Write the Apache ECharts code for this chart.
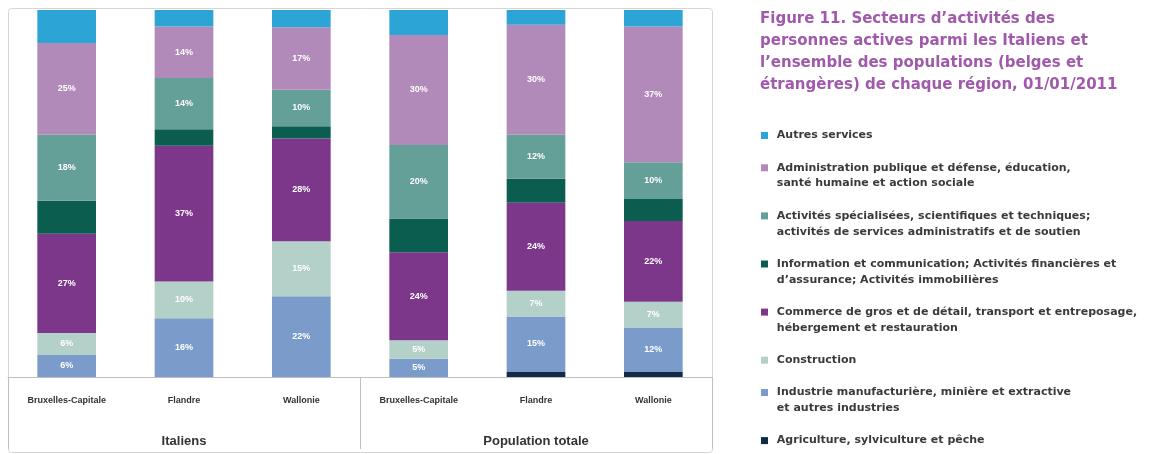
<!DOCTYPE html>
<html>
<head>
<meta charset="utf-8">
<script src="https://cdn.jsdelivr.net/npm/echarts@6/dist/echarts.min.js"></script>
<style>
  html, body { margin: 0; padding: 0; background: #ffffff; }
  #chart { width: 1153px; height: 454px; }
</style>
</head>
<body>
<div id="chart"></div>
<script>
// Régions et groupes de population
const regions = ['Bruxelles-Capitale', 'Flandre', 'Wallonie', 'Bruxelles-Capitale', 'Flandre', 'Wallonie'];
const groups = ['Italiens', 'Population totale'];

// Parts (%) par secteur d'activité, dans l'ordre des régions ci-dessus
const agriculture  = [0, 0, 0, 0, 1.5, 1.5];
const industrie    = [6, 16, 22, 5, 15, 12];
const construction = [6, 10, 15, 5, 7, 7];
const commerce     = [27, 37, 28, 24, 24, 22];
const information  = [9, 4.5, 3.3, 9.2, 6.5, 6];
const specialisees = [18, 14, 10, 20, 12, 10];
const administration = [25, 14, 17, 30, 30, 37];
const autresServices = [9, 4.5, 4.7, 6.8, 4, 4.5];

// Libellés des secteurs (ordre de la légende, du haut vers le bas)
const sectorNames = [
  'Autres services',
  'Administration publique et défense, éducation,\nsanté humaine et action sociale',
  'Activités spécialisées, scientifiques et techniques;\nactivités de services administratifs et de soutien',
  'Information et communication; Activités financières et\nd\u2019assurance; Activités immobilières',
  'Commerce de gros et de détail, transport et entreposage,\nhébergement et restauration',
  'Construction',
  'Industrie manufacturière, minière et extractive\net autres industries',
  'Agriculture, sylviculture et pêche'
];

const titleText = 'Figure 11. Secteurs d\u2019activités des\npersonnes actives parmi les Italiens et\nl\u2019ensemble des populations (belges et\nétrangères) de chaque région, 01/01/2011';

// Empilement du bas vers le haut
const stack = [
  { data: agriculture,    name: sectorNames[7], color: '#102b4a', label: false },
  { data: industrie,      name: sectorNames[6], color: '#7b9ccb', label: true },
  { data: construction,   name: sectorNames[5], color: '#b3d1c8', label: true },
  { data: commerce,       name: sectorNames[4], color: '#7c378b', label: true },
  { data: information,    name: sectorNames[3], color: '#0b5d50', label: false },
  { data: specialisees,   name: sectorNames[2], color: '#649f98', label: true },
  { data: administration, name: sectorNames[1], color: '#b28ab9', label: true },
  { data: autresServices, name: sectorNames[0], color: '#2ca4d6', label: false }
];

const FONT = '"Liberation Sans", Arial, sans-serif';
const WIDE = '"DejaVu Sans", Verdana, sans-serif';

const series = stack.map(s => ({
  name: s.name,
  type: 'bar',
  stack: 'total',
  barWidth: '50%',
  data: s.data,
  itemStyle: { color: s.color },
  label: {
    show: s.label,
    position: 'inside',
    formatter: p => p.value + '%',
    color: '#ffffff',
    fontFamily: FONT,
    fontWeight: 'bold',
    fontSize: 9
  },
  emphasis: { disabled: true }
}));

// Une légende par secteur ; une ligne vide en tête place le carré
// au niveau de la première ligne du texte
const LINE = 15.8, GAP = 16.5;
const legends = [];
let centerY = 135.5;
sectorNames.forEach(name => {
  const parts = name.split('\n');
  const twoLine = parts.length > 1;
  const shown = parts.map(p => ' ' + p).join('\n');
  legends.push({
    data: [name],
    formatter: () => (twoLine ? ' \n' + shown : shown),
    orient: 'vertical',
    left: 761,
    top: centerY - (twoLine ? LINE * 1.5 : LINE / 2),
    padding: 0,
    icon: 'rect',
    itemWidth: 7,
    itemHeight: 7,
    selectedMode: false,
    textStyle: {
      fontFamily: WIDE,
      fontSize: 11,
      fontWeight: 'bold',
      color: '#3a3a3a',
      lineHeight: LINE
    }
  });
  centerY += parts.length * LINE + GAP;
});

const chart = echarts.init(document.getElementById('chart'), null, { renderer: 'canvas' });
chart.setOption({
  animation: false,
  backgroundColor: '#ffffff',
  title: {
    text: titleText,
    left: 760,
    top: 8,
    padding: 0,
    textStyle: {
      fontFamily: WIDE,
      fontSize: 15,
      fontWeight: 'bold',
      color: '#a059ab',
      lineHeight: 22
    }
  },
  legend: legends,
  graphic: [{
    type: 'rect',
    shape: { x: 8.5, y: 8.5, width: 704, height: 444, r: 3 },
    style: { fill: 'none', stroke: '#d6d6d6', lineWidth: 1 },
    silent: true,
    z: -1
  }],
  grid: { left: 8, right: 441, top: 10, bottom: 77 },
  xAxis: [
    {
      type: 'category',
      data: regions,
      position: 'bottom',
      axisLine: { show: true, lineStyle: { color: '#bfbfbf', width: 1 } },
      axisTick: { show: false },
      axisLabel: {
        interval: 0,
        margin: 19,
        fontFamily: FONT,
        fontSize: 9,
        fontWeight: 'bold',
        color: '#333333'
      }
    },
    {
      type: 'category',
      data: groups,
      position: 'bottom',
      axisLine: { show: false },
      axisTick: {
        show: true,
        length: 72,
        lineStyle: { color: '#bfbfbf', width: 1 }
      },
      axisLabel: {
        interval: 0,
        margin: 58,
        fontFamily: FONT,
        fontSize: 13,
        fontWeight: 'bold',
        color: '#333333'
      }
    }
  ],
  yAxis: {
    type: 'value',
    min: 0,
    max: 100,
    show: false
  },
  series: series
});
</script>
</body>
</html>
